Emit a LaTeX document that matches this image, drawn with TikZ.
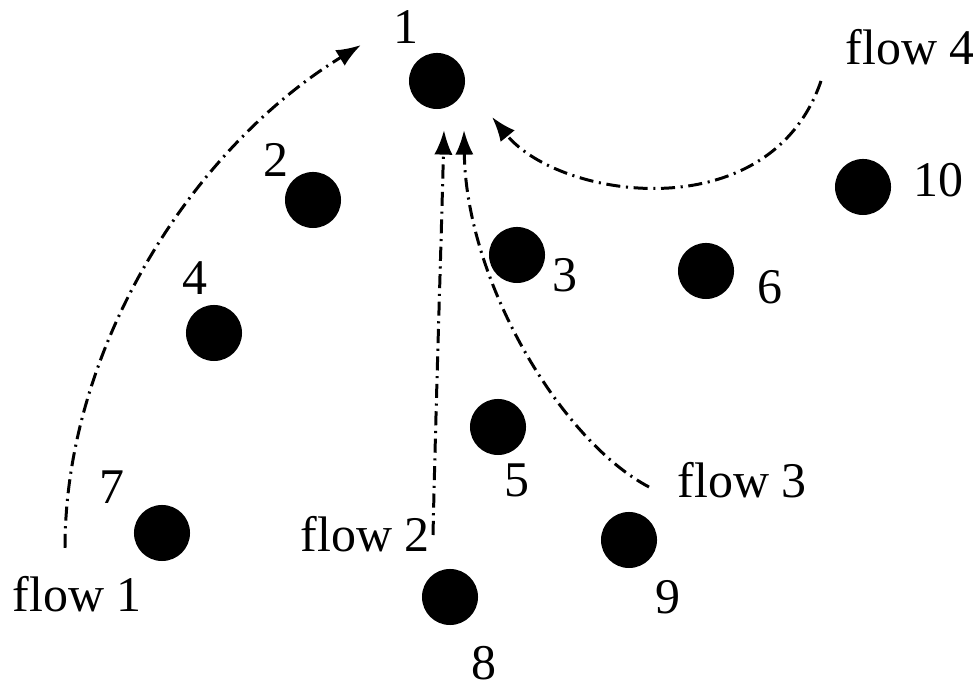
\documentclass[tikz,border=0pt]{standalone}
\usepackage{fontspec}
\setmainfont{Liberation Serif}
\usetikzlibrary{arrows.meta}

\tikzset{
  dot/.style={circle, fill=black, inner sep=0pt, minimum size=0.56cm},
  lab/.style={anchor=base, inner sep=0pt, font=\fontsize{14.2}{17}\selectfont},
  flowline/.style={line width=0.85pt, dash pattern=on 4pt off 1.6pt on 0.6pt off 1.6pt,
    -{Latex[length=7pt,width=5.2pt]}}
}

\begin{document}
\begin{tikzpicture}[x=0.01cm, y=-0.01cm]
    \useasboundingbox (0,0) rectangle (973,686);
    %the dots
    \node[dot] (n1) at (437,81) {};
    \node[dot] (n2) at (313,200) {};
    \node[dot] (n3) at (517,255) {};
    \node[dot] (n4) at (214,333) {};
    \node[dot] (n5) at (498,427) {};
    \node[dot] (n6) at (706,271) {};
    \node[dot] (n7) at (162,533) {};
    \node[dot] (n8) at (450,597) {};
    \node[dot] (n9) at (629,540) {};
    \node[dot] (n10) at (863,187) {};
    %the numbers
    \node[lab] (l1) at (406,44) {1};
    \node[lab] (l2) at (276,177) {2};
    \node[lab] (l3) at (565,292) {3};
    \node[lab] (l4) at (195,295) {4};
    \node[lab] (l5) at (517,497) {5};
    \node[lab] (l6) at (770,304) {6};
    \node[lab] (l7) at (112,504) {7};
    \node[lab] (l8) at (484,680) {8};
    \node[lab] (l9) at (668,614) {9};
    \node[lab] (l10) at (938,197) {10};
    %the flow names
    \node[lab, anchor=base west] (fl1) at (12,612) {flow 1};
    \node[lab, anchor=base west] (fl2) at (300,552) {flow 2};
    \node[lab, anchor=base west] (fl3) at (677,498) {flow 3};
    \node[lab, anchor=base west] (fl4) at (845,65) {flow 4};
    %ends of the flows
    \coordinate (s1) at (65,548);  \coordinate (e1) at (361,45);
    \coordinate (s2) at (433,535); \coordinate (e2) at (444,130);
    \coordinate (s3) at (649,487); \coordinate (e3) at (464,130);
    \coordinate (s4) at (821,81);  \coordinate (e4) at (492,117);
    %the flows
    \draw[flowline] (s1) .. controls (65,350) and (190,150) .. (e1);
    \draw[flowline] (s2) .. controls (436,400) and (441,250) .. (e2);
    \draw[flowline] (s3) .. controls (560,440) and (466,280) .. (e3);
    \draw[flowline] (s4) .. controls (770,230) and (560,200) .. (e4);
\end{tikzpicture}
\end{document}
